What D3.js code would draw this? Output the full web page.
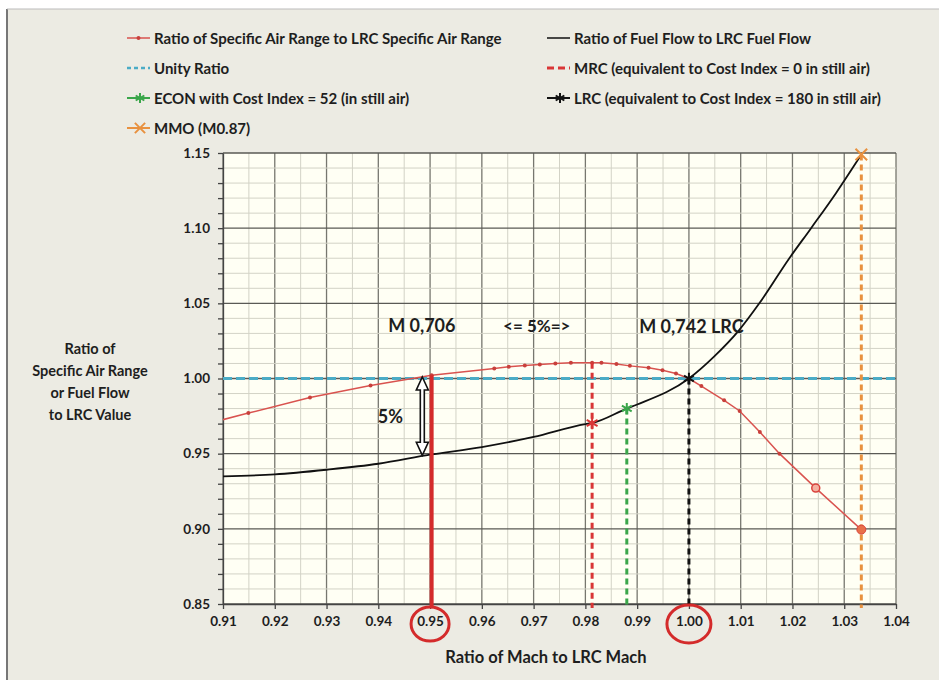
<!DOCTYPE html>
<html>
<head>
<meta charset="utf-8">
<script src="https://cdn.jsdelivr.net/npm/d3@7"></script>
<style>
  body { margin: 0; background: #fff; }
  svg text { font-family: Lato, "Open Sans", sans-serif; font-weight: bold; fill: #1e1e1e; }
</style>
</head>
<body>
<div id="okvir"></div>
<script>
// podaci ocitani sa slike
const sarMach  = [0.9032, 0.9149, 0.9268, 0.9385, 0.9503, 0.9624, 0.9652, 0.9683, 0.9712, 0.9742, 0.9772,
                  0.9813, 0.9831, 0.9860, 0.9886, 0.9922, 0.9949, 0.9975, 1.0000, 1.0024, 1.0068, 1.0098,
                  1.0137, 1.0175, 1.0245, 1.0333]
const sarRatio = [0.9666, 0.9770, 0.9873, 0.9953, 1.0022, 1.0067, 1.0078, 1.0087, 1.0093, 1.0100, 1.0104,
                  1.0104, 1.0104, 1.0097, 1.0084, 1.0071, 1.0055, 1.0033, 1.0000, 0.9950, 0.9855, 0.9784,
                  0.9644, 0.9500, 0.9271, 0.8995]
const ffMach   = [0.91, 0.92, 0.93, 0.94, 0.95, 0.96, 0.97, 0.98, 0.9813, 0.988, 0.99, 1.00, 1.0048, 1.0097,
                  1.0136, 1.0194, 1.0236, 1.0284, 1.0333]
const ffRatio  = [0.9349, 0.9362, 0.9393, 0.9433, 0.9493, 0.9544, 0.9611, 0.9697, 0.9704, 0.9800, 0.9827,
                  1.0000, 1.0144, 1.0322, 1.0500, 1.0800, 1.1000, 1.1233, 1.1490]
const unityRatio = 1.0

// referentne tocke: MRC, ECON, LRC, MMO
const mrcPoint  = [0.9813, 0.9704, 1.0104]
const econPoint = [0.9880, 0.9800]
const lrcPoint  = [1.0000, 1.0000]
const mmoPoint  = [1.0333, 1.1490]
const m706Point = [0.9503, 1.0022, 0.9493]

const xTicks = [0.91, 0.92, 0.93, 0.94, 0.95, 0.96, 0.97, 0.98, 0.99, 1.00, 1.01, 1.02, 1.03, 1.04]
const yTicks = [0.85, 0.90, 0.95, 1.00, 1.05, 1.10, 1.15]

const legendLabels = [
  "Ratio of Specific Air Range to LRC Specific Air Range",
  "Ratio of Fuel Flow to LRC Fuel Flow",
  "Unity Ratio",
  "MRC (equivalent to Cost Index = 0 in still air)",
  "ECON with Cost Index = 52 (in still air)",
  "LRC (equivalent to Cost Index = 180 in still air)",
  "MMO (M0.87)",
]

const boje = {
  sar: "#d9534f", ff: "#111", unity: "#4bacc6", mrc: "#d93636",
  econ: "#3aa64a", lrc: "#111", mmo: "#e8913f", m706: "#d42b2b",
}

// dimenzije
let dimenzije = {
  sirina: 939,
  visina: 680,
  margine: { top: 153, right: 43, bottom: 76, left: 223 },
}
dimenzije.grSirina = dimenzije.sirina - dimenzije.margine.left - dimenzije.margine.right
dimenzije.grVisina = dimenzije.visina - dimenzije.margine.top - dimenzije.margine.bottom

const okvir = d3.select("#okvir")
  .append("svg")
    .attr("width", dimenzije.sirina)
    .attr("height", dimenzije.visina)

// pozadina slike
okvir.append("rect")
    .attr("x", 7).attr("y", 9)
    .attr("width", dimenzije.sirina - 7).attr("height", dimenzije.visina - 9)
    .attr("fill", "#ecebe3")
okvir.append("line")
    .attr("x1", 7).attr("x2", 7).attr("y1", 9).attr("y2", dimenzije.visina)
    .attr("stroke", "#777").attr("stroke-width", 2)
okvir.append("line")
    .attr("x1", 7).attr("x2", dimenzije.sirina).attr("y1", 9).attr("y2", 9)
    .attr("stroke", "#bbb").attr("stroke-width", 1)

const granice = okvir.append("g")
    .attr("transform", `translate(${dimenzije.margine.left},${dimenzije.margine.top})`)

const xSkala = d3.scaleLinear()
  .domain([0.91, 1.04])
  .range([0, dimenzije.grSirina])

const ySkala = d3.scaleLinear()
  .domain([0.85, 1.15])
  .range([dimenzije.grVisina, 0])

granice.append("rect")
    .attr("width", dimenzije.grSirina)
    .attr("height", dimenzije.grVisina)
    .attr("fill", "#fffff4")

okvir.append("clipPath").attr("id", "clip")
  .append("rect")
    .attr("width", dimenzije.grSirina)
    .attr("height", dimenzije.grVisina)

// mreza
const xMinor = d3.range(0, 27).map(i => 0.91 + i * 0.005)
const yMinor = d3.range(0, 31).map(i => 0.85 + i * 0.01)

const mreza = granice.append("g")
mreza.selectAll(".vmin").data(xMinor).join("line")
    .attr("x1", d => xSkala(d)).attr("x2", d => xSkala(d))
    .attr("y1", 0).attr("y2", dimenzije.grVisina)
    .attr("stroke", (d, i) => i % 2 === 0 ? "#77776f" : "#d3d3c6")
    .attr("stroke-width", (d, i) => i % 2 === 0 ? 1.3 : 1)
mreza.selectAll(".hmin").data(yMinor).join("line")
    .attr("y1", d => ySkala(d)).attr("y2", d => ySkala(d))
    .attr("x1", 0).attr("x2", dimenzije.grSirina)
    .attr("stroke", (d, i) => i % 5 === 0 ? "#5a5a55" : "#d3d3c6")
    .attr("stroke-width", (d, i) => i % 5 === 0 ? 1.3 : 1)

// osi
const xOsGenerator = d3.axisBottom(xSkala)
  .tickValues(xTicks)
  .tickFormat(d3.format(".2f"))
  .tickSize(5)
  .tickSizeOuter(0)
  .tickPadding(7)

const xOs = granice.append("g")
    .attr("transform", `translate(0,${dimenzije.grVisina})`)
    .call(xOsGenerator)
xOs.selectAll("text").style("font-size", "13.5px").attr("fill", "#1e1e1e")

const yOsGenerator = d3.axisLeft(ySkala)
  .tickValues(yMinor)
  .tickFormat(d => yTicks.some(t => Math.abs(t - d) < 1e-6) ? d3.format(".2f")(d) : "")
  .tickSize(5)
  .tickSizeOuter(0)
  .tickPadding(8)

const yOs = granice.append("g").call(yOsGenerator)
yOs.selectAll("text").style("font-size", "13.5px").attr("fill", "#1e1e1e")
okvir.selectAll(".domain, .tick line").attr("stroke", "#444").attr("stroke-width", 1.3)

const podaci = granice.append("g").attr("clip-path", "url(#clip)")

// jedinicni omjer
podaci.append("line")
    .attr("x1", 0).attr("x2", dimenzije.grSirina)
    .attr("y1", ySkala(unityRatio)).attr("y2", ySkala(unityRatio))
    .attr("stroke", boje.unity).attr("stroke-width", 3).attr("stroke-dasharray", "9,4")

// okomite linije
const okomita = (mach, vrh, boja, sirina, crtkano) => {
  granice.append("line")
      .attr("x1", xSkala(mach)).attr("x2", xSkala(mach))
      .attr("y1", ySkala(vrh)).attr("y2", dimenzije.grVisina + 4)
      .attr("stroke", boja).attr("stroke-width", sirina)
      .attr("stroke-dasharray", crtkano ? "6,4" : null)
}
okomita(mrcPoint[0], mrcPoint[2], boje.mrc, 3, true)
okomita(econPoint[0], econPoint[1], boje.econ, 3, true)
okomita(lrcPoint[0], lrcPoint[1], boje.lrc, 3, true)
okomita(mmoPoint[0], mmoPoint[1], boje.mmo, 3, true)

// krivulje
const sarData = sarMach.map((m, i) => [m, sarRatio[i]])
const ffData = ffMach.map((m, i) => [m, ffRatio[i]])

const linija = d3.line().x(d => xSkala(d[0])).y(d => ySkala(d[1]))

podaci.append("path")
    .attr("d", linija.curve(d3.curveMonotoneX)(ffData))
    .attr("fill", "none").attr("stroke", boje.ff).attr("stroke-width", 1.8)

podaci.append("path")
    .attr("d", d3.line().x(d => xSkala(d[0])).y(d => ySkala(d[1]))(sarData))
    .attr("fill", "none").attr("stroke", boje.sar).attr("stroke-width", 1.5)

podaci.selectAll(".sar-tocka").data(sarData.slice(0, -2)).join("circle")
    .attr("cx", d => xSkala(d[0])).attr("cy", d => ySkala(d[1]))
    .attr("r", 2).attr("fill", "#c8403c")

const predzadnja = sarData[sarData.length - 2]
granice.append("circle")
    .attr("cx", xSkala(predzadnja[0])).attr("cy", ySkala(predzadnja[1]))
    .attr("r", 4).attr("fill", "#f4b0a0").attr("stroke", "#d9433c").attr("stroke-width", 1.5)
const zadnja = sarData[sarData.length - 1]
granice.append("circle")
    .attr("cx", xSkala(zadnja[0])).attr("cy", ySkala(zadnja[1]))
    .attr("r", 4.5).attr("fill", "#e8704a").attr("stroke", "#d9433c").attr("stroke-width", 1)

// M 0,706 debela crvena linija
okomita(m706Point[0], m706Point[1], boje.m706, 4, false)

// markeri
const marker = (tip, mach, omjer, boja, vel) => {
  granice.append("path")
      .attr("d", d3.symbol(tip, vel)())
      .attr("transform", `translate(${xSkala(mach)},${ySkala(omjer)})`)
      .attr("fill", "none").attr("stroke", boja).attr("stroke-width", 2)
}
marker(d3.symbolAsterisk, mrcPoint[0], mrcPoint[1], boje.mrc, 110)
marker(d3.symbolAsterisk, econPoint[0], econPoint[1], boje.econ, 90)
marker(d3.symbolAsterisk, lrcPoint[0], lrcPoint[1], boje.lrc, 90)
marker(d3.symbolTimes, mmoPoint[0], mmoPoint[1], boje.mmo, 90)

// strelica 5%
const ax = xSkala(0.9485), ay1 = ySkala(1.001), ay2 = ySkala(0.9489)
granice.append("path")
    .attr("d", `M${ax},${ay1} L${ax + 6},${ay1 + 13} L${ax + 2},${ay1 + 13} L${ax + 2},${ay2 - 13}
      L${ax + 6},${ay2 - 13} L${ax},${ay2} L${ax - 6},${ay2 - 13} L${ax - 2},${ay2 - 13}
      L${ax - 2},${ay1 + 13} L${ax - 6},${ay1 + 13} Z`)
    .attr("fill", "#fff").attr("stroke", "#111").attr("stroke-width", 1.6)

// anotacije
const oznaka = (tekst, mach, omjer, vel) => {
  granice.append("text")
      .attr("x", xSkala(mach)).attr("y", ySkala(omjer))
      .style("font-size", vel + "px")
      .text(tekst)
}
oznaka("M 0,706", 0.9419, 1.0310, 18)
oznaka("<= 5%=>", 0.9641, 1.0310, 17)
oznaka("M 0,742 LRC", 0.9904, 1.0302, 18)
oznaka("5%", 0.9399, 0.9707, 18)

// kruznice oko 0.95 i 1.00
const kruznica = (mach, rx, ry) => {
  granice.append("ellipse")
      .attr("cx", xSkala(mach)).attr("cy", dimenzije.grVisina + 20)
      .attr("rx", rx).attr("ry", ry)
      .attr("fill", "none").attr("stroke", "#d42b2b").attr("stroke-width", 3)
}
kruznica(0.95, 19, 17)
kruznica(1.00, 22, 19)

// naslovi osi
okvir.append("text")
    .attr("x", 546).attr("y", 663)
    .attr("text-anchor", "middle")
    .style("font-size", "16.5px")
    .text("Ratio of Mach to LRC Mach")

const yNaslov = ["Ratio of", "Specific Air Range", "or Fuel Flow", "to LRC Value"]
okvir.selectAll(".y-naslov").data(yNaslov).join("text")
    .attr("x", 90).attr("y", (d, i) => 354 + i * 22)
    .attr("text-anchor", "middle")
    .style("font-size", "14.5px")
    .text(d => d)

// legenda
const legenda = okvir.append("g")
const lPoz = [[127, 38], [547, 38], [127, 68], [547, 68], [127, 98], [547, 98], [127, 128]]
const lBoje = [boje.sar, boje.ff, boje.unity, boje.mrc, boje.econ, boje.lrc, boje.mmo]
const lCrtano = [null, null, "4,3", "7,4", null, null, null]
const lSirina = [1.5, 1.5, 2.5, 3, 2, 2, 2]
const lSimbol = [null, null, null, null, d3.symbolAsterisk, d3.symbolAsterisk, d3.symbolTimes]

legendLabels.forEach((tekst, i) => {
  const [lx, ly] = lPoz[i]
  legenda.append("line")
      .attr("x1", lx).attr("x2", lx + 23).attr("y1", ly).attr("y2", ly)
      .attr("stroke", lBoje[i]).attr("stroke-width", lSirina[i])
      .attr("stroke-dasharray", lCrtano[i])
  if (i === 0) {
    legenda.append("circle").attr("cx", lx + 11.5).attr("cy", ly).attr("r", 2).attr("fill", "#c8403c")
  }
  if (lSimbol[i]) {
    legenda.append("path")
        .attr("d", d3.symbol(lSimbol[i], 70)())
        .attr("transform", `translate(${lx + 13},${ly})`)
        .attr("fill", "none").attr("stroke", lBoje[i]).attr("stroke-width", 2)
  }
  legenda.append("text")
      .attr("x", lx + 27).attr("y", ly + 5.5)
      .style("font-size", "15px")
      .text(tekst)
})
</script>
</body>
</html>
